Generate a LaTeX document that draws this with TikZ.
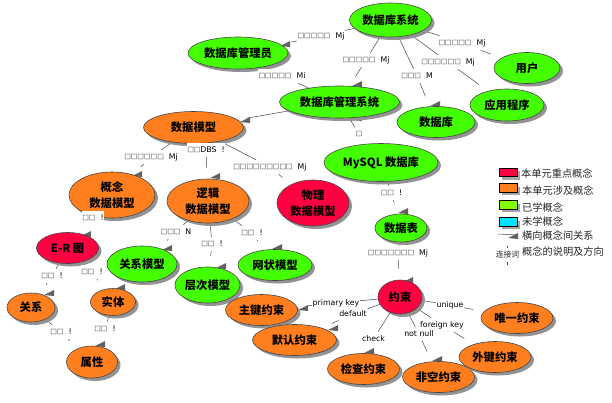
\documentclass[tikz,border=0pt]{standalone}
\usepackage{fontspec}
\setmainfont{Noto Sans CJK SC}
\newfontfamily\labelfont{DejaVu Sans}
\usepackage{tikz}
\usetikzlibrary{shapes.geometric, backgrounds, shadows}
\definecolor{keyred}{RGB}{255,0,64}
\definecolor{relorange}{RGB}{255,127,30}
\definecolor{learngreen}{RGB}{68,255,0}
\definecolor{swatchgreen}{RGB}{128,255,0}
\definecolor{newcyan}{RGB}{0,229,255}
\definecolor{edgegray}{RGB}{70,70,70}
\newcommand{\boxrun}[1]{{\rmfamily\bfseries\fontsize{6.6}{8}\selectfont #1}}
\newcommand{\headmark}[2]{\fill[edgegray!85] (#1,#2) -- ++(10,-5) -- ++(0,6) -- cycle;}

\begin{document}
\begin{tikzpicture}[
  x=1pt, y=-1pt,
  concept/.style={ellipse, draw=edgegray, line width=0.6pt, inner sep=0pt, align=center, text=black,
    font=\fontsize{11.3}{16.5}\selectfont\bfseries,
    drop shadow={shadow xshift=3pt, shadow yshift=-3pt, fill=gray!85, opacity=1}},
  keypoint/.style={concept, fill=keyred},
  related/.style={concept, fill=relorange},
  learned/.style={concept, fill=learngreen},
  linklabel/.style={fill=white, inner sep=0.6pt, minimum height=14pt, font=\labelfont\fontsize{7.8}{9}\selectfont, text=black},
  link/.style={draw=edgegray, line width=0.5pt},
  linkend/.style={link, shorten >=11pt},
  swatch/.style={rectangle, draw=black, line width=0.7pt, inner sep=0pt, minimum width=18pt, minimum height=8.5pt,
    drop shadow={shadow xshift=3pt, shadow yshift=-3pt, fill=gray!70, opacity=1}},
  legendtext/.style={anchor=west, inner sep=0pt, font=\fontsize{10.2}{12}\selectfont, text=black!85}
]
\useasboundingbox (0,0) rectangle (612,402);

% --- upper part ---
\node[learned, minimum width=82pt, minimum height=34pt] (system) at (390.5,20) {数据库系统};
\node[learned, minimum width=100pt, minimum height=32pt] (dba) at (238,53) {数据库管理员};
\node[learned, minimum width=120pt, minimum height=32pt] (dbms) at (339.5,102) {数据库管理系统};
\node[learned, minimum width=78pt, minimum height=31pt] (database) at (436,122) {数据库};
\node[learned, minimum width=74pt, minimum height=32pt] (application) at (507,105) {应用程序};
\node[learned, minimum width=66pt, minimum height=31pt] (user) at (527,68) {用户};
\node[learned, minimum width=114pt, minimum height=38pt] (mysql) at (381,162.5) {MySQL 数据库};

% --- data models ---
\node[related, minimum width=100pt, minimum height=32pt] (datamodel) at (193.5,127.5) {数据模型};
\node[related, minimum width=86pt, minimum height=46pt] (conceptual) at (112,195) {概念\\数据模型};
\node[related, minimum width=82pt, minimum height=44pt] (logical) at (208,201) {逻辑\\数据模型};
\node[keypoint, minimum width=72pt, minimum height=46pt] (physical) at (313,203) {物理\\数据模型};
\node[keypoint, minimum width=62pt, minimum height=31pt] (er) at (67.5,248) {E-R 图};
\node[related, minimum width=48pt, minimum height=29pt] (relation) at (31,307.5) {关系};
\node[related, minimum width=45pt, minimum height=27pt] (entity) at (113,302) {实体};
\node[related, minimum width=51pt, minimum height=32pt] (attribute) at (92,362) {属性};
\node[learned, minimum width=70pt, minimum height=36pt] (relmodel) at (142,264) {关系模型};
\node[learned, minimum width=65pt, minimum height=36pt] (hiermodel) at (207.5,285) {层次模型};
\node[learned, minimum width=74pt, minimum height=31pt] (netmodel) at (275,265) {网状模型};

% --- constraints ---
\node[learned, minimum width=52pt, minimum height=28pt] (table) at (401,228) {数据表};
\node[keypoint, minimum width=44pt, minimum height=34pt] (constraint) at (400,297) {约束};
\node[related, minimum width=72pt, minimum height=31pt] (primary) at (261.5,310) {主键约束};
\node[related, minimum width=84pt, minimum height=31pt] (default) at (294.5,340) {默认约束};
\node[related, minimum width=72pt, minimum height=31pt] (check) at (363.5,369) {检查约束};
\node[related, minimum width=72pt, minimum height=31pt] (notnull) at (438.5,377) {非空约束};
\node[related, minimum width=72pt, minimum height=31pt] (foreign) at (495,357) {外键约束};
\node[related, minimum width=72pt, minimum height=31pt] (unique) at (517,318) {唯一约束};

% --- link labels ---
\node[linklabel] (l-dba) at (321,36) {\boxrun{□□□□□}\ \ Mj};
\node[linklabel] (l-mi) at (282,76) {\boxrun{□□□□□}\ \ Mi};
\node[linklabel] (l-dbms) at (366,60) {\boxrun{□□□□□}\ \ Mj};
\node[linklabel] (l-database) at (417,76) {\boxrun{□□□}\ \ M};
\node[linklabel] (l-app) at (448,62) {\boxrun{□□□□□□}\ \ Mj};
\node[linklabel] (l-user) at (462,43) {\boxrun{□□□□□}\ \ Mj};
\node[linklabel] (l-mysql) at (359,134) {\boxrun{□}};
\node[linklabel] (l-conceptual) at (151,157) {\boxrun{□□□□□□}\ \ Mj};
\node[linklabel] (l-logical) at (206,150) {\boxrun{□□}DBS\ \ !};
\node[linklabel] (l-physical) at (270,167) {\boxrun{□□□□□□□□□}\ \ Mj};
\node[linklabel] (l-er) at (93,218) {\boxrun{□□}\ \ !};
\node[linklabel] (l-rel) at (176,232) {\boxrun{□□□}\ \ N};
\node[linklabel] (l-hier) at (212,244) {\boxrun{□□}\ \ !};
\node[linklabel] (l-net) at (252,233) {\boxrun{□□}\ \ !};
\node[linklabel] (l-relation) at (52,276) {\boxrun{□□}\ \ !};
\node[linklabel] (l-entity) at (92,272) {\boxrun{□□}\ \ !};
\node[linklabel] (l-attr1) at (61,332) {\boxrun{□□}\ \ !};
\node[linklabel] (l-attr2) at (105,329) {\boxrun{□□}\ \ !};
\node[linklabel] (l-table) at (391.5,193) {\boxrun{□□}\ \ !};
\node[linklabel] (l-constraint) at (398,253) {\boxrun{□□□□□□□}\ \ Mj};
\node[linklabel] (l-primary) at (336,303) {primary key};
\node[linklabel] (l-default) at (353,314) {default};
\node[linklabel] (l-unique) at (450,305) {unique};
\node[linklabel] (l-foreign) at (442,325) {foreign key};
\node[linklabel] (l-notnull) at (419,334) {not null};
\node[linklabel] (l-check) at (373.5,339) {check};

% --- legend ---
\node[swatch, fill=keyred] (s-key) at (508,172.5) {};
\node[swatch, fill=relorange] (s-rel) at (508,188) {};
\node[swatch, fill=swatchgreen] (s-learn) at (508,205) {};
\node[swatch, fill=newcyan] (s-new) at (508,222) {};
\node[legendtext] (t-key) at (521,174) {本单元重点概念};
\node[legendtext] (t-rel) at (522,191) {本单元涉及概念};
\node[legendtext] (t-learn) at (522,208) {已学概念};
\node[legendtext] (t-new) at (522,222) {未学概念};
\node[legendtext] (t-cross) at (522,236) {横向概念间关系};
\node[legendtext] (t-word) at (522,252) {概念的说明及方向};
\coordinate (crossstart) at (498,234);
\coordinate (crossend) at (518,235);
\node[fill=white, inner sep=0.5pt, minimum height=14pt, font=\fontsize{7.8}{9}\selectfont, text=black!85] (word) at (507.5,255) {连接词};
\coordinate (wordtop) at (507.5,246);
\coordinate (wordbottom) at (507.5,265);

% Verbindungen
\begin{pgfonlayer}{background}
\draw[link] (system) -- (l-dba);
\draw[linkend] (l-dba) -- (dba);
\draw[link] (dbms) -- (l-mi);
\draw[linkend] (l-mi) -- (dba);
\draw[link] (system) -- (l-dbms);
\draw[linkend] (l-dbms) -- (dbms);
\draw[link] (system) -- (l-database);
\draw[linkend] (l-database) -- (database);
\draw[link] (system) -- (l-app);
\draw[linkend] (l-app) -- (application);
\draw[link] (system) -- (l-user);
\draw[linkend] (l-user) -- (user);
\draw[link] (dbms) -- (l-mysql);
\draw[linkend] (l-mysql) -- (mysql);
\draw[link, shorten >=9pt] (dbms) -- (datamodel);

\draw[link] (datamodel) -- (l-conceptual);
\draw[linkend] (l-conceptual) -- (conceptual);
\draw[link] (datamodel) -- (l-logical);
\draw[linkend] (l-logical) -- (logical);
\draw[link] (datamodel) -- (l-physical);
\draw[linkend] (l-physical) -- (physical);
\draw[link] (conceptual) -- (l-er);
\draw[linkend] (l-er) -- (er);
\draw[link] (logical) -- (l-rel);
\draw[linkend] (l-rel) -- (relmodel);
\draw[link] (logical) -- (l-hier);
\draw[linkend] (l-hier) -- (hiermodel);
\draw[link] (logical) -- (l-net);
\draw[linkend] (l-net) -- (netmodel);
\draw[link] (er) -- (l-relation);
\draw[linkend] (l-relation) -- (relation);
\draw[link] (er) -- (l-entity);
\draw[linkend] (l-entity) -- (entity);
\draw[link] (relation) -- (l-attr1);
\draw[linkend] (l-attr1) -- (attribute);
\draw[link] (entity) -- (l-attr2);
\draw[linkend] (l-attr2) -- (attribute);

\draw[link] (mysql) -- (l-table);
\draw[linkend] (l-table) -- (table);
\draw[link] (table) -- (l-constraint);
\draw[linkend] (l-constraint) -- (constraint);
\draw[link] (constraint) -- (l-primary);
\draw[linkend] (l-primary) -- (primary);
\draw[link] (constraint) -- (l-default);
\draw[linkend] (l-default) -- (default);
\draw[link] (constraint) -- (l-unique);
\draw[linkend] (l-unique) -- (unique);
\draw[link] (constraint) -- (l-foreign);
\draw[linkend] (l-foreign) -- (foreign);
\draw[link] (constraint) -- (l-notnull);
\draw[linkend] (l-notnull) -- (notnull);
\draw[link] (constraint) -- (l-check);
\draw[linkend] (l-check) -- (check);

\draw[link] (crossstart) -- (crossend);
\draw[link] (wordtop) -- (wordbottom);

% Pfeilspitzen
\headmark{132}{176}
\headmark{210}{178}
\headmark{240}{122}
\headmark{280}{46}
\headmark{352}{86}
\headmark{352}{120}
\headmark{430}{106}
\headmark{398}{213}
\headmark{403}{282}
\headmark{81}{236}
\headmark{44}{295}
\headmark{115}{289}
\headmark{162}{250}
\headmark{216}{268}
\headmark{272}{249}
\headmark{95}{346}
\headmark{298}{310}
\headmark{328}{330}
\headmark{364}{353}
\headmark{432}{361}
\headmark{508}{238}
\end{pgfonlayer}
\end{tikzpicture}
\end{document}
